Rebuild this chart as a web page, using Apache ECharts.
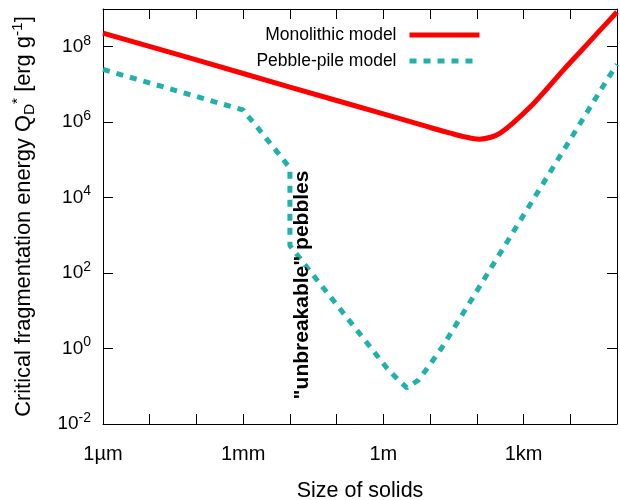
<!DOCTYPE html>
<html><head><meta charset="utf-8">
<script src="https://cdn.jsdelivr.net/npm/echarts@6/dist/echarts.min.js"></script>
<style>html,body{margin:0;padding:0;background:#fff}#c{width:620px;height:500px}</style>
</head><body><div id="c"></div>
<script>
// Size of solids [m]
const monoSize = [1e-6, 1e-4, 1e-2, 1, 10, 27, 56, 112, 200, 316, 600, 1380, 3240, 7100, 16200, 38000, 1e5];
// Critical fragmentation energy [erg/g]
const monoQ = [2.29e8, 4.47e7, 8.51e6, 1.66e6, 7.24e5, 5.13e5, 4.07e5, 3.55e5, 3.98e5, 5.13e5, 9.55e5, 2.51e6, 7.94e6, 2.40e7, 7.24e7, 2.29e8, 8.32e8];

const pebbleSize = [1e-6, 1e-3, 1.2e-3, 2.0e-3, 2.95e-3, 4.4e-3, 6.8e-3, 0.01, 0.01, 0.019, 1.2, 2.0, 3.2, 5.6, 8.7, 18, 64600, 1e5];
const pebbleQ = [2.5e7, 2.1e6, 1.55e6, 7.4e5, 4.0e5, 2.2e5, 1.12e5, 6.0e4, 540, 195, 0.30, 0.155, 0.091, 0.145, 0.30, 1.07, 1.48e7, 3.4e7];

const seriesNames = ['Monolithic model', 'Pebble-pile model'];
const xTickExp = [-6, -3, 0, 3];
const xTickLabels = ['1µm', '1mm', '1m', '1km'];
const yTickExp = [-2, 0, 2, 4, 6, 8];

const FONT = '"Liberation Sans", Arial, sans-serif';
const chart = echarts.init(document.getElementById('c'), null, {renderer: 'canvas'});

function pairs(xs, ys) { return xs.map((x, i) => [x, ys[i]]); }
function xFmt(v) {
  const e = Math.round(Math.log10(v));
  const i = xTickExp.indexOf(e);
  return i >= 0 ? xTickLabels[i] : '';
}
function yFmt(v) {
  const e = Math.round(Math.log10(v));
  return yTickExp.indexOf(e) >= 0 ? '10{s|' + e + '}' : '';
}
const axisLine = {show: true, lineStyle: {color: '#000', width: 1}};
const tick = {show: true, inside: true, length: 10, lineStyle: {color: '#000', width: 1}};

const xBase = {type: 'log', logBase: 10, min: 1e-6, max: 1e5, interval: 1, splitNumber: 11,
  axisLine, axisTick: tick, splitLine: {show: false}, minorTick: {show: false}};
const yBase = {type: 'log', logBase: 10, min: 1e-2, max: 1e9, interval: 2,
  axisLine, axisTick: tick, splitLine: {show: false}, minorTick: {show: false}};

chart.setOption({
  animation: false,
  backgroundColor: '#fff',
  grid: {left: 103, right: 3, top: 9, bottom: 76, containLabel: false, outerBoundsMode: 'none'},
  legend: {
    data: seriesNames, orient: 'vertical', right: 133, top: 21, align: 'right',
    itemWidth: 70, itemHeight: 14, itemGap: 8,
    itemStyle: {opacity: 0},
    lineStyle: {width: 5},
    textStyle: {fontFamily: FONT, fontSize: 17.5, color: '#000', padding: [0, 8, 0, 0]}
  },
  xAxis: [
    Object.assign({}, xBase, {position: 'bottom',
      name: 'Size of solids', nameLocation: 'middle', nameGap: 56,
      nameTextStyle: {fontFamily: FONT, fontSize: 21.5, color: '#000'},
      axisLabel: {formatter: xFmt, fontFamily: FONT, fontSize: 20, color: '#000', margin: 20, showMinLabel: true, showMaxLabel: true, interval: 0}}),
    Object.assign({}, xBase, {position: 'top', axisLabel: {show: false}})
  ],
  yAxis: [
    Object.assign({}, yBase, {position: 'left',
      name: 'Critical fragmentation energy Q{sub|D}{sup|*} [erg g{sup|-1}]',
      nameLocation: 'middle', nameGap: 65, nameRotate: 90,
      nameTextStyle: {fontFamily: FONT, fontSize: 21.8, color: '#000', lineHeight: 28,
        rich: {sub: {fontFamily: FONT, fontSize: 15.5, verticalAlign: 'bottom', lineHeight: 16},
               sup: {fontFamily: FONT, fontSize: 15.5, verticalAlign: 'top', lineHeight: 16}}},
      axisLabel: {formatter: yFmt, fontFamily: FONT, fontSize: 19, color: '#000', margin: 12, lineHeight: 26,
        rich: {s: {fontFamily: FONT, fontSize: 14, verticalAlign: 'top', lineHeight: 15}}}}),
    Object.assign({}, yBase, {position: 'right', axisLabel: {show: false}})
  ],
  series: [
    {name: seriesNames[0], type: 'line', xAxisIndex: 0, yAxisIndex: 0, data: pairs(monoSize, monoQ),
      symbol: 'none', smooth: 0.35, color: '#ff0000', lineStyle: {color: '#ff0000', width: 5}, z: 3},
    {name: seriesNames[1], type: 'line', xAxisIndex: 0, yAxisIndex: 0, data: pairs(pebbleSize, pebbleQ),
      symbol: 'none', smooth: false, color: '#20b2aa', lineStyle: {color: '#20b2aa', width: 5, type: [7, 7], cap: 'butt'}, z: 2}
  ],
  graphic: [{
    type: 'text', x: 302, y: 285, rotation: Math.PI / 2, z: 10,
    style: {text: '"unbreakable" pebbles', font: 'bold 21px ' + FONT, fill: '#000',
      textAlign: 'center', textVerticalAlign: 'middle', align: 'center', verticalAlign: 'middle'}
  }]
});
</script>
</body></html>
